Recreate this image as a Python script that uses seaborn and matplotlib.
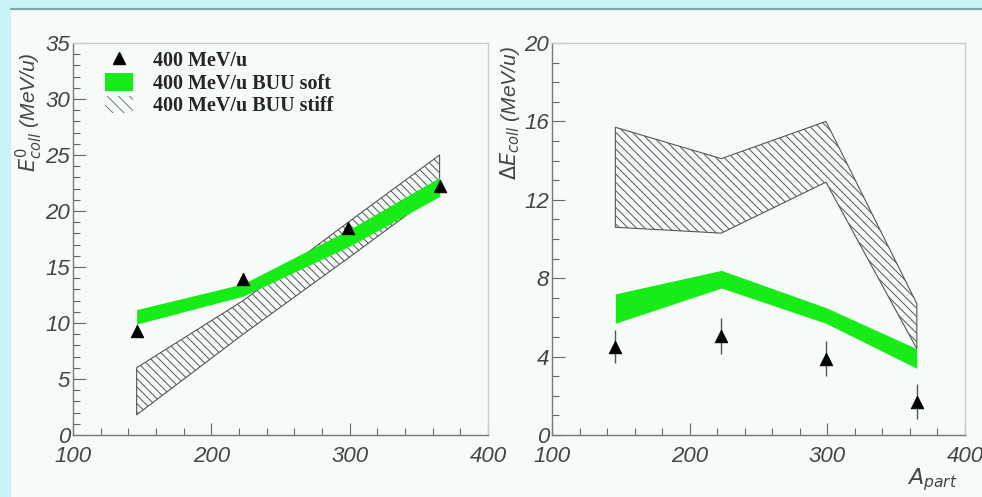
import numpy as np
import pandas as pd
import matplotlib
matplotlib.use("Agg")
import matplotlib.pyplot as plt
from matplotlib.patches import Rectangle, Patch
from matplotlib.lines import Line2D
from matplotlib.ticker import MultipleLocator
import seaborn as sns

# Number of participants for the four systems
a_part = [146, 223, 299, 365]

# Left panel: collective energy E0_coll (MeV/u)
e0_data = [9.3, 13.9, 18.5, 22.2]
e0_soft_hi = [11.2, 13.5, 18.3, 23.0]
e0_soft_lo = [9.9, 12.4, 16.8, 21.3]
e0_stiff_hi = [6.0, 12.0, 19.0, 25.0]
e0_stiff_lo = [1.8, 9.0, 15.8, 21.8]

# Right panel: spread Delta E_coll (MeV/u)
de_data = [4.5, 5.05, 3.9, 1.7]
de_err = [0.85, 0.9, 0.9, 0.9]
de_soft_hi = [7.2, 8.4, 6.5, 4.4]
de_soft_lo = [5.7, 7.5, 5.7, 3.4]
de_stiff_hi = [15.7, 14.1, 16.0, 6.7]
de_stiff_lo = [10.6, 10.3, 12.9, 4.4]

legend_labels = ["400 MeV/u", "400 MeV/u BUU soft", "400 MeV/u BUU stiff"]

sns.set_theme(style="ticks")
plt.rcParams["font.family"] = ["Liberation Sans", "DejaVu Sans"]
plt.rcParams["hatch.color"] = "#555555"
plt.rcParams["hatch.linewidth"] = 0.7

GREEN = "#18ec18"
PANEL = "#f6fbf9"
TICKC = "#666666"
HATCH = "\\\\\\\\"

fig = plt.figure(figsize=(9.82, 4.97), dpi=100)
fig.patch.set_facecolor("#c6f4f6")
# pale panel with a thin dark rule along its top
fig.patches.append(Rectangle((11 / 982, 0), 1, 488 / 497, transform=fig.transFigure,
                             facecolor=PANEL, edgecolor="none", zorder=-5))
fig.add_artist(Line2D([11 / 982, 1], [488.5 / 497, 488.5 / 497], transform=fig.transFigure,
                      color="#7fa8aa", lw=1.6, zorder=-4))

ax1 = fig.add_axes([73 / 982, 62 / 497, 415 / 982, 392 / 497])
ax2 = fig.add_axes([552 / 982, 62 / 497, 413 / 982, 392 / 497])
ax1.set_zorder(2)
ax2.set_zorder(2)

df_left = pd.DataFrame({"A": a_part, "E": e0_data})
df_right = pd.DataFrame({"A": a_part, "E": de_data})


def style_axes(ax, ymax, ymajor, yminor):
    ax.set_facecolor(PANEL)
    ax.set_xlim(100, 400)
    ax.set_ylim(0, ymax)
    ax.xaxis.set_major_locator(MultipleLocator(100))
    ax.xaxis.set_minor_locator(MultipleLocator(20))
    ax.yaxis.set_major_locator(MultipleLocator(ymajor))
    ax.yaxis.set_minor_locator(MultipleLocator(yminor))
    ax.tick_params(which="both", direction="in", color=TICKC, width=0.8,
                   labelsize=16, labelcolor="#444444")
    ax.tick_params(axis="x", pad=8)
    ax.tick_params(axis="y", pad=2)
    ax.tick_params(which="major", length=9)
    ax.tick_params(which="minor", length=5)
    for lab in ax.get_xticklabels() + ax.get_yticklabels():
        lab.set_fontstyle("italic")
    for s in ("left", "bottom"):
        ax.spines[s].set_color("#777777")
        ax.spines[s].set_linewidth(1.0)
    for s in ("top", "right"):
        ax.spines[s].set_color("#cccccc")
        ax.spines[s].set_linewidth(1.0)
    ax.set_xlabel("")
    ax.set_ylabel("")


# ---- left panel ----
ax1.fill_between(a_part, e0_stiff_lo, e0_stiff_hi, facecolor="none",
                 edgecolor="#555555", hatch=HATCH, linewidth=0.8, zorder=2)
ax1.fill_between(a_part, e0_soft_lo, e0_soft_hi, color=GREEN, linewidth=0, zorder=3)
sns.scatterplot(data=df_left, x="A", y="E", marker="^", s=80, color="black",
                edgecolor="black", ax=ax1, zorder=4, legend=False)
style_axes(ax1, 35, 5, 1)

handles = [
    Line2D([], [], marker="^", color="black", ls="none", markersize=8),
    Patch(facecolor=GREEN, edgecolor="none"),
    Patch(facecolor="none", edgecolor="#777777", hatch="\\\\\\", linewidth=0.0),
]
leg = ax1.legend(handles, legend_labels, loc="upper left", bbox_to_anchor=(0.033, 1.027),
                 frameon=False, handlelength=1.4, handleheight=0.95, labelspacing=0.1,
                 handletextpad=1.0, prop={"family": "Liberation Serif", "weight": "bold",
                                          "size": 14.5})

fig.text(29 / 982, (497 - 112) / 497, r"$E^{0}_{coll}$ (MeV/u)", rotation=90,
         ha="center", va="center", fontsize=15, color="#444444", style="italic")

# ---- right panel ----
ax2.fill_between(a_part, de_stiff_lo, de_stiff_hi, facecolor="none",
                 edgecolor="#555555", hatch=HATCH, linewidth=0.8, zorder=2)
ax2.fill_between(a_part, de_soft_lo, de_soft_hi, color=GREEN, linewidth=0, zorder=3)
ax2.errorbar(a_part, de_data, yerr=de_err, fmt="none", ecolor="#555555",
             elinewidth=1.0, capsize=0, zorder=3)
sns.scatterplot(data=df_right, x="A", y="E", marker="^", s=80, color="black",
                edgecolor="black", ax=ax2, zorder=4, legend=False)
style_axes(ax2, 20, 4, 1)

fig.text(510 / 982, (497 - 113) / 497, r"$\Delta E_{coll}$ (MeV/u)", rotation=90,
         ha="center", va="center", fontsize=15, color="#444444", style="italic")
fig.text(932 / 982, (497 - 480) / 497, r"$A_{part}$", ha="center", va="center",
         fontsize=16, color="#444444", style="italic")

fig.savefig("out.png", dpi=100, facecolor=fig.get_facecolor())
